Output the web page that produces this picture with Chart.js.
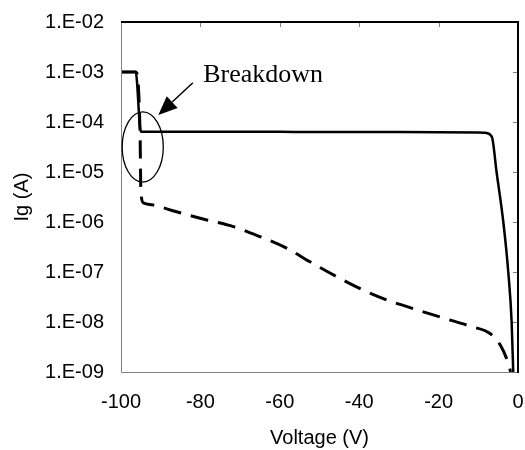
<!DOCTYPE html>
<html>
<head>
<meta charset="utf-8">
<script src="https://cdn.jsdelivr.net/npm/chart.js@4/dist/chart.umd.min.js"></script>
<style>
  body { margin: 0; background: #fff; }
  #wrap { width: 525px; height: 450px; }
</style>
</head>
<body>
<div id="wrap"><canvas id="chart" width="525" height="450"></canvas></div>
<script>
// solid curve
var solidV = [-100, -96.3, -95.0, -90, -60, -30, -10, -8.3, -6.6, -5.4, -3.7, -2.45, -1.6, -1.2];
var solidI = [1e-3, 1e-3, 6.4e-5, 6.4e-5, 6.35e-5, 6.3e-5, 6.2e-5, 6.1e-5, 5.1e-5, 1.0e-5, 1.0e-6, 1.0e-7, 1.0e-8, 1.0e-9];

// dashed curve
var dashV = [-100, -96.3, -95.2, -95.0, -94.3, -92, -86, -78.4, -71.7, -65, -58.3, -52.4, -45.7, -39.4, -32.7, -25.9, -18.8, -11.7, -7.05, -4.5, -2.45, -1.85];
var dashI = [1e-3, 1e-3, 6e-5, 4e-6, 2.4e-6, 2.2e-6, 1.6e-6, 1.1e-6, 8.1e-7, 5.1e-7, 3.0e-7, 1.6e-7, 8.1e-8, 4.5e-8, 2.7e-8, 1.8e-8, 1.2e-8, 8.1e-9, 5.9e-9, 3.5e-9, 1.5e-9, 1e-9];

var xTicks = [-100, -80, -60, -40, -20, 0];
var yTicks = [1e-9, 1e-8, 1e-7, 1e-6, 1e-5, 1e-4, 1e-3, 1e-2];

// annotation: ellipse bounds, arrow and label in data units
var ellipseV = [-99.7, -89.35];
var ellipseI = [1.6e-4, 6.3e-6];
var arrowFrom = [-81.9, 6.1e-4];
var arrowTo = [-90.6, 1.38e-4];
var labelAt = [-79.3, 6.3e-4];
var labelText = 'Breakdown';

function pts(xs, ys) {
    var out = [];
    for (var i = 0; i < xs.length; i++) out.push({x: xs[i], y: ys[i]});
    return out;
}

function fmtExp(v) {
    var e = Math.round(Math.log10(v));
    var s = String(Math.abs(e));
    if (s.length < 2) s = '0' + s;
    return '1.E' + (e < 0 ? '-' : '+') + s;
}

var axisFont = {family: 'Liberation Sans, Arial, sans-serif', size: 20};

var framePlugin = {
    id: 'frame',
    afterDatasetsDraw: function (chart) {
        var ctx = chart.ctx;
        var a = chart.chartArea;
        var xs = chart.scales.x, ys = chart.scales.y;
        ctx.save();

        // left and bottom border, thin grey
        ctx.strokeStyle = '#808080';
        ctx.lineWidth = 1;
        ctx.beginPath();
        ctx.moveTo(a.left + 0.5, a.top);
        ctx.lineTo(a.left + 0.5, a.bottom + 0.5);
        ctx.lineTo(a.right, a.bottom + 0.5);
        ctx.stroke();

        // inward tick marks
        ctx.beginPath();
        xTicks.forEach(function (v) {
            if (v === -100 || v === 0) return;
            var px = Math.round(xs.getPixelForValue(v)) + 0.5;
            ctx.moveTo(px, a.top);
            ctx.lineTo(px, a.top + 5);
        });
        yTicks.forEach(function (v) {
            var py = Math.round(ys.getPixelForValue(v)) + 0.5;
            ctx.moveTo(a.right, py);
            ctx.lineTo(a.right - 5, py);
        });
        ctx.stroke();

        // top and right axis lines, black
        ctx.strokeStyle = '#000';
        ctx.lineWidth = 2;
        ctx.beginPath();
        ctx.moveTo(a.left, a.top);
        ctx.lineTo(a.right, a.top);
        ctx.lineTo(a.right, a.bottom + 1);
        ctx.stroke();

        // ellipse around the breakdown
        var l = xs.getPixelForValue(ellipseV[0]), r = xs.getPixelForValue(ellipseV[1]);
        var t = ys.getPixelForValue(ellipseI[0]), b = ys.getPixelForValue(ellipseI[1]);
        ctx.lineWidth = 1.3;
        ctx.beginPath();
        ctx.ellipse((l + r) / 2, (t + b) / 2, (r - l) / 2, (b - t) / 2, 0, 0, Math.PI * 2);
        ctx.stroke();

        // arrow
        var x1 = xs.getPixelForValue(arrowFrom[0]), y1 = ys.getPixelForValue(arrowFrom[1]);
        var x2 = xs.getPixelForValue(arrowTo[0]), y2 = ys.getPixelForValue(arrowTo[1]);
        var ang = Math.atan2(y2 - y1, x2 - x1);
        var hl = 19, hw = 8;
        var bx = x2 - hl * Math.cos(ang), by = y2 - hl * Math.sin(ang);
        ctx.lineWidth = 1.5;
        ctx.beginPath();
        ctx.moveTo(x1, y1);
        ctx.lineTo(bx, by);
        ctx.stroke();
        ctx.fillStyle = '#000';
        ctx.beginPath();
        ctx.moveTo(x2, y2);
        ctx.lineTo(bx + hw * Math.sin(ang), by - hw * Math.cos(ang));
        ctx.lineTo(bx - hw * Math.sin(ang), by + hw * Math.cos(ang));
        ctx.closePath();
        ctx.fill();

        // label
        ctx.font = '26px "Liberation Serif", "Times New Roman", serif';
        ctx.textAlign = 'left';
        ctx.textBaseline = 'alphabetic';
        ctx.fillText(labelText, xs.getPixelForValue(labelAt[0]), ys.getPixelForValue(labelAt[1]));

        ctx.restore();
    }
};

var chart = new Chart(document.getElementById('chart'), {
    type: 'line',
    data: {
        datasets: [
            {
                label: 'solid',
                data: pts(solidV, solidI),
                borderColor: '#000',
                borderWidth: 2.5,
                pointRadius: 0,
                fill: false,
                cubicInterpolationMode: 'monotone'
            },
            {
                label: 'dashed',
                data: pts(dashV, dashI),
                borderColor: '#000',
                borderWidth: 3,
                borderDash: [18, 10],
                pointRadius: 0,
                fill: false,
                cubicInterpolationMode: 'monotone'
            }
        ]
    },
    options: {
        responsive: false,
        animation: false,
        layout: {padding: {top: 22, right: 7, left: 0, bottom: 0}},
        plugins: {
            legend: {display: false},
            tooltip: {enabled: false}
        },
        scales: {
            x: {
                type: 'linear',
                min: -100,
                max: 0,
                afterBuildTicks: function (s) {
                    s.ticks = xTicks.map(function (v) { return {value: v}; });
                },
                ticks: {color: '#000', font: axisFont, padding: 18, maxRotation: 0},
                grid: {display: false, drawTicks: false},
                border: {display: false},
                title: {display: true, text: 'Voltage (V)', color: '#000', font: axisFont, padding: {top: 0, bottom: 0}},
                afterFit: function (s) {
                    s.height = 78;
                    s.paddingLeft = 0;
                    s.paddingRight = 0;
                }
            },
            y: {
                type: 'logarithmic',
                min: 1e-9,
                max: 1e-2,
                afterBuildTicks: function (s) {
                    s.ticks = yTicks.map(function (v) { return {value: v}; });
                },
                ticks: {
                    color: '#000',
                    font: axisFont,
                    padding: 17,
                    callback: function (v) { return fmtExp(v); }
                },
                grid: {display: false, drawTicks: false},
                border: {display: false},
                title: {display: true, text: 'Ig (A)', color: '#000', font: axisFont, padding: {top: 10, bottom: 0}},
                afterFit: function (s) {
                    s.width = 121;
                    s.paddingTop = 0;
                    s.paddingBottom = 0;
                }
            }
        }
    },
    plugins: [framePlugin]
});
</script>
</body>
</html>
